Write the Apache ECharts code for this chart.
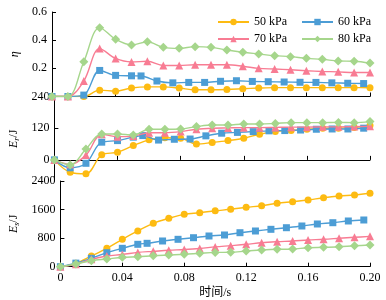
<!DOCTYPE html>
<html>
<head>
<meta charset="utf-8">
<script src="https://cdn.jsdelivr.net/npm/echarts@6/dist/echarts.min.js"></script>
<style>
  html, body { margin: 0; padding: 0; background: #fff; }
  #chart { width: 386px; height: 300px; }
</style>
</head>
<body>
<div id="chart"></div>
<script>
// 时间 (s)
const tStep = [0, 0.01, 0.02, 0.03, 0.04, 0.05, 0.06, 0.07, 0.08, 0.09, 0.10,
  0.11, 0.12, 0.13, 0.14, 0.15, 0.16, 0.17, 0.18, 0.19, 0.20];
// 60 kPa 的采样点位置不一样
const tBlue = [0, 0.01, 0.02, 0.03, 0.04, 0.05, 0.056, 0.066, 0.076, 0.086, 0.096,
  0.106, 0.116, 0.126, 0.136, 0.146, 0.156, 0.166, 0.176, 0.186, 0.196];

const names = ['50 kPa', '60 kPa', '70 kPa', '80 kPa'];

// η
const eta50 = [0, 0, 0, 0.045, 0.038, 0.06, 0.068, 0.068, 0.06, 0.048, 0.048,
  0.05, 0.055, 0.06, 0.063, 0.063, 0.063, 0.063, 0.063, 0.063, 0.062];
const eta60 = [0, 0, 0.01, 0.185, 0.15, 0.147, 0.146, 0.11, 0.097, 0.1, 0.1,
  0.108, 0.112, 0.107, 0.105, 0.103, 0.101, 0.1, 0.097, 0.094, 0.092];
const eta70 = [0, 0, 0.11, 0.34, 0.27, 0.245, 0.25, 0.22, 0.22, 0.225, 0.225,
  0.225, 0.215, 0.2, 0.195, 0.19, 0.183, 0.178, 0.175, 0.17, 0.17];
const eta80 = [0, 0, 0.247, 0.489, 0.406, 0.366, 0.389, 0.349, 0.342, 0.354, 0.349,
  0.33, 0.314, 0.302, 0.29, 0.283, 0.271, 0.264, 0.252, 0.25, 0.237];

// 中间 E_r (J)
const er50 = [0, -47, -53, 19, 29, 54, 76, 84, 82, 60, 66,
  73, 82, 97, 107, 111, 116, 120, 120, 123, 130];
const er60 = [0, -30, -13, 67, 73, 86, 92, 75, 78, 79, 91,
  101, 104, 107, 110, 111, 113, 116, 117, 117, 120];
const er70 = [0, -17, 18, 97, 88, 90, 103, 103, 107, 116, 120,
  121, 122, 122, 123, 124, 124, 125, 125, 126, 127];
const er80 = [0, -19, 41, 98, 98, 94, 116, 116, 117, 126, 132,
  132, 136, 136, 138, 141, 141, 141, 142, 141, 145];

// 下面 E_s (J)
const es50 = [0, 95, 300, 515, 767, 1000, 1215, 1355, 1467, 1512, 1565,
  1607, 1663, 1708, 1775, 1820, 1868, 1932, 1980, 2008, 2055];
const es60 = [0, 100, 235, 392, 515, 627, 655, 720, 767, 812, 860,
  888, 952, 1000, 1047, 1092, 1140, 1196, 1232, 1280, 1308];
const es70 = [0, 70, 210, 300, 340, 400, 430, 460, 480, 510, 555,
  590, 627, 672, 700, 720, 748, 767, 795, 823, 850];
const es80 = [0, 75, 168, 215, 263, 280, 308, 328, 347, 375, 400,
  403, 440, 467, 487, 495, 532, 543, 560, 588, 608];

const colors = ['#FDBB12', '#4C9DD5', '#F87C93', '#A6D68C'];
const symbols = ['circle', 'rect', 'triangle', 'diamond'];
const symbolSizes = [7, 7, 8, 9];
const font = "'Liberation Serif', 'Noto Sans CJK SC', serif";

const pair = (ts, vs) => ts.map((t, i) => [t, vs[i]]);

function mkSeries(idx, grid, ts, vs) {
  return {
    name: names[idx],
    type: 'line',
    xAxisIndex: grid,
    yAxisIndex: grid,
    smooth: 0.35,
    symbol: symbols[idx],
    symbolSize: symbolSizes[idx],
    showAllSymbol: true,
    z: 2 + idx,
    lineStyle: { color: colors[idx], width: 1.4 },
    itemStyle: { color: colors[idx] },
    data: pair(ts, vs),
  };
}

function xAxis(grid, showLabel) {
  return {
    type: 'value',
    gridIndex: grid,
    min: 0,
    max: 0.2,
    interval: 0.04,
    name: showLabel ? '时间/s' : '',
    nameLocation: 'middle',
    nameGap: 20,
    nameTextStyle: { fontFamily: font, fontSize: 12, color: '#000' },
    axisLine: { lineStyle: { color: '#000', width: 1 } },
    axisTick: { inside: true, length: 4, lineStyle: { color: '#000' } },
    axisLabel: {
      show: showLabel,
      margin: 5,
      fontFamily: font,
      fontSize: 12,
      color: '#000',
      formatter: (v) => (v === 0 ? '0' : v.toFixed(2)),
    },
    splitLine: { show: false },
  };
}

const yBase = {
  type: 'value',
  nameLocation: 'middle',
  nameGap: 28,
  axisLine: { show: true, lineStyle: { color: '#000', width: 1 } },
  axisTick: { show: true, inside: true, length: 4, lineStyle: { color: '#000' } },
  splitLine: { show: false },
};
const labelStyle = {
  fontFamily: font, fontSize: 12, color: '#000', margin: 5,
  formatter: (v) => String(v),
};
const nameRich = {
  i: { fontFamily: font, fontSize: 12, fontStyle: 'italic', color: '#000' },
  s: { fontFamily: font, fontSize: 8, fontStyle: 'italic', color: '#000', padding: [5, 0, 0, 0] },
  n: { fontFamily: font, fontSize: 12, color: '#000' },
};

const option = {
  animation: false,
  backgroundColor: '#fff',
  legend: [
    {
      data: ['50 kPa', '60 kPa'],
      left: 212,
      top: 11,
      itemWidth: 31,
      itemHeight: 8,
      itemGap: 14,
      textStyle: { fontFamily: font, fontSize: 12, color: '#000' },
    },
    {
      data: ['70 kPa', '80 kPa'],
      left: 212,
      top: 28,
      itemWidth: 31,
      itemHeight: 8,
      itemGap: 14,
      textStyle: { fontFamily: font, fontSize: 12, color: '#000' },
    },
  ],
  grid: [
    { left: 52, right: 16, top: 12, height: 84.5 },
    { left: 52, right: 16, top: 96.5, height: 84.5 },
    { left: 52, right: 16, top: 181, height: 85.7 },
  ],
  xAxis: [xAxis(0, false), xAxis(1, false), xAxis(2, true)],
  yAxis: [
    Object.assign({}, yBase, {
      gridIndex: 0,
      min: 0,
      max: 0.6,
      interval: 0.2,
      name: '{i|η}',
      nameTextStyle: { rich: nameRich },
      axisLabel: Object.assign({}, labelStyle, {
        showMinLabel: false,
        formatter: (v) => v.toFixed(1),
      }),
    }),
    Object.assign({}, yBase, {
      gridIndex: 1,
      min: -80,
      max: 240,
      name: '{i|E}{s|r}{n|/J}',
      nameTextStyle: { rich: nameRich },
      axisLabel: Object.assign({}, labelStyle, { customValues: [0, 120, 240] }),
      axisTick: Object.assign({}, yBase.axisTick, { customValues: [0, 120, 240] }),
    }),
    Object.assign({}, yBase, {
      gridIndex: 2,
      min: 0,
      max: 2400,
      interval: 800,
      name: '{i|E}{s|s}{n|/J}',
      nameGap: 32,
      nameTextStyle: { rich: nameRich },
      axisLabel: Object.assign({}, labelStyle),
    }),
  ],
  series: [
    mkSeries(0, 0, tStep, eta50),
    mkSeries(1, 0, tBlue, eta60),
    mkSeries(2, 0, tStep, eta70),
    mkSeries(3, 0, tStep, eta80),
    mkSeries(0, 1, tStep, er50),
    mkSeries(1, 1, tBlue, er60),
    mkSeries(2, 1, tStep, er70),
    mkSeries(3, 1, tStep, er80),
    mkSeries(0, 2, tStep, es50),
    mkSeries(1, 2, tBlue, es60),
    mkSeries(2, 2, tStep, es70),
    mkSeries(3, 2, tStep, es80),
  ],
};

const chart = echarts.init(document.getElementById('chart'));
chart.setOption(option);
</script>
</body>
</html>
